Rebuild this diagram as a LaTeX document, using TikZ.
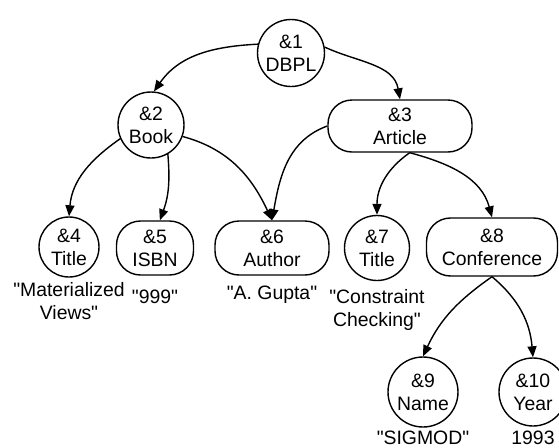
\documentclass[tikz,border=0pt]{standalone}
\usepackage{fontspec}
\setmainfont{Liberation Sans}
\usetikzlibrary{positioning, arrows.meta}

\newcommand{\qt}[1]{\textquotedbl#1\textquotedbl}

\begin{document}
\begin{tikzpicture}[x=0.5pt, y=0.5pt, line width=0.7pt, font=\fontsize{9.7}{11.5}\selectfont]

    % Define styles
    \tikzstyle{obj} = [draw, circle, inner sep=0pt, align=center]
    \tikzstyle{objr} = [draw, rectangle, rounded corners=12pt, inner sep=0pt, minimum height=27pt, align=center]
    \tikzstyle{val} = [inner sep=0pt, align=center]
    \tikzstyle{arr} = [-{Triangle[length=5.5pt, width=4.5pt]}]

    \useasboundingbox (0,0) rectangle (559,447);

    % OBJECTS
    \node (dbpl) [obj, minimum size=33.5pt] at (291,394) {\&1\\DBPL};

    \node (book) [obj, minimum size=33pt] at (151,322) {\&2\\Book};
    \node (article) [objr, minimum width=72pt, minimum height=26pt] at (400,321) {\&3\\Article};

    \node (title1) [obj, minimum size=30pt] at (69,200) {\&4\\Title};
    \node (isbn) [objr, minimum width=38.5pt] at (155,199) {\&5\\ISBN};
    \node (author) [objr, minimum width=57pt] at (272,199) {\&6\\Author};
    \node (title2) [obj, minimum size=32.5pt] at (377,199) {\&7\\Title};
    \node (conf) [objr, minimum width=65.5pt, minimum height=29pt] at (492,200) {\&8\\Conference};

    \node (name) [obj, minimum size=35pt] at (423,55) {\&9\\Name};
    \node (year) [obj, minimum size=34pt] at (533,55) {\&10\\Year};

    % VALUES
    \node (title1_value) [val, below=2pt of title1] {\textquotedbl Materialized\\Views\textquotedbl};
    \node (isbn_value) [val, below=7pt of isbn] {\qt{999}};
    \node (author_value) [val, below=5pt of author] {\qt{A. Gupta}};
    \node (title2_value) [val, below=3.7pt of title2] {\textquotedbl Constraint\\Checking\textquotedbl};
    \node (name_value) [val, below=1.5pt of name] {\qt{SIGMOD}};
    \node (year_value) [val, below=2pt of year] {1993};

    % CONNECTIONS
    \draw[arr] (dbpl.165) to[out=183, in=55] (book.85);
    \draw[arr] (dbpl.10) to[out=-25, in=100] (article.north);
    \draw[arr] (book.204) to[out=215, in=85] (title1.north);
    \draw[arr] (book.-60) to[out=-85, in=70] (isbn.80);
    \draw[arr] (book.-20) to[out=-15, in=115] (author.north);
    \draw[arr] (article.west) to[out=200, in=80] (author.north);
    \draw[arr] (article.-70) to[out=215, in=90] (title2.north);
    \draw[arr] (article.-70) to[out=-15, in=105] (conf.north);
    \draw[arr] (conf.south) to[out=215, in=65] (name.north);
    \draw[arr] (conf.south) to[out=-40, in=95] (year.north);

\end{tikzpicture}
\end{document}
